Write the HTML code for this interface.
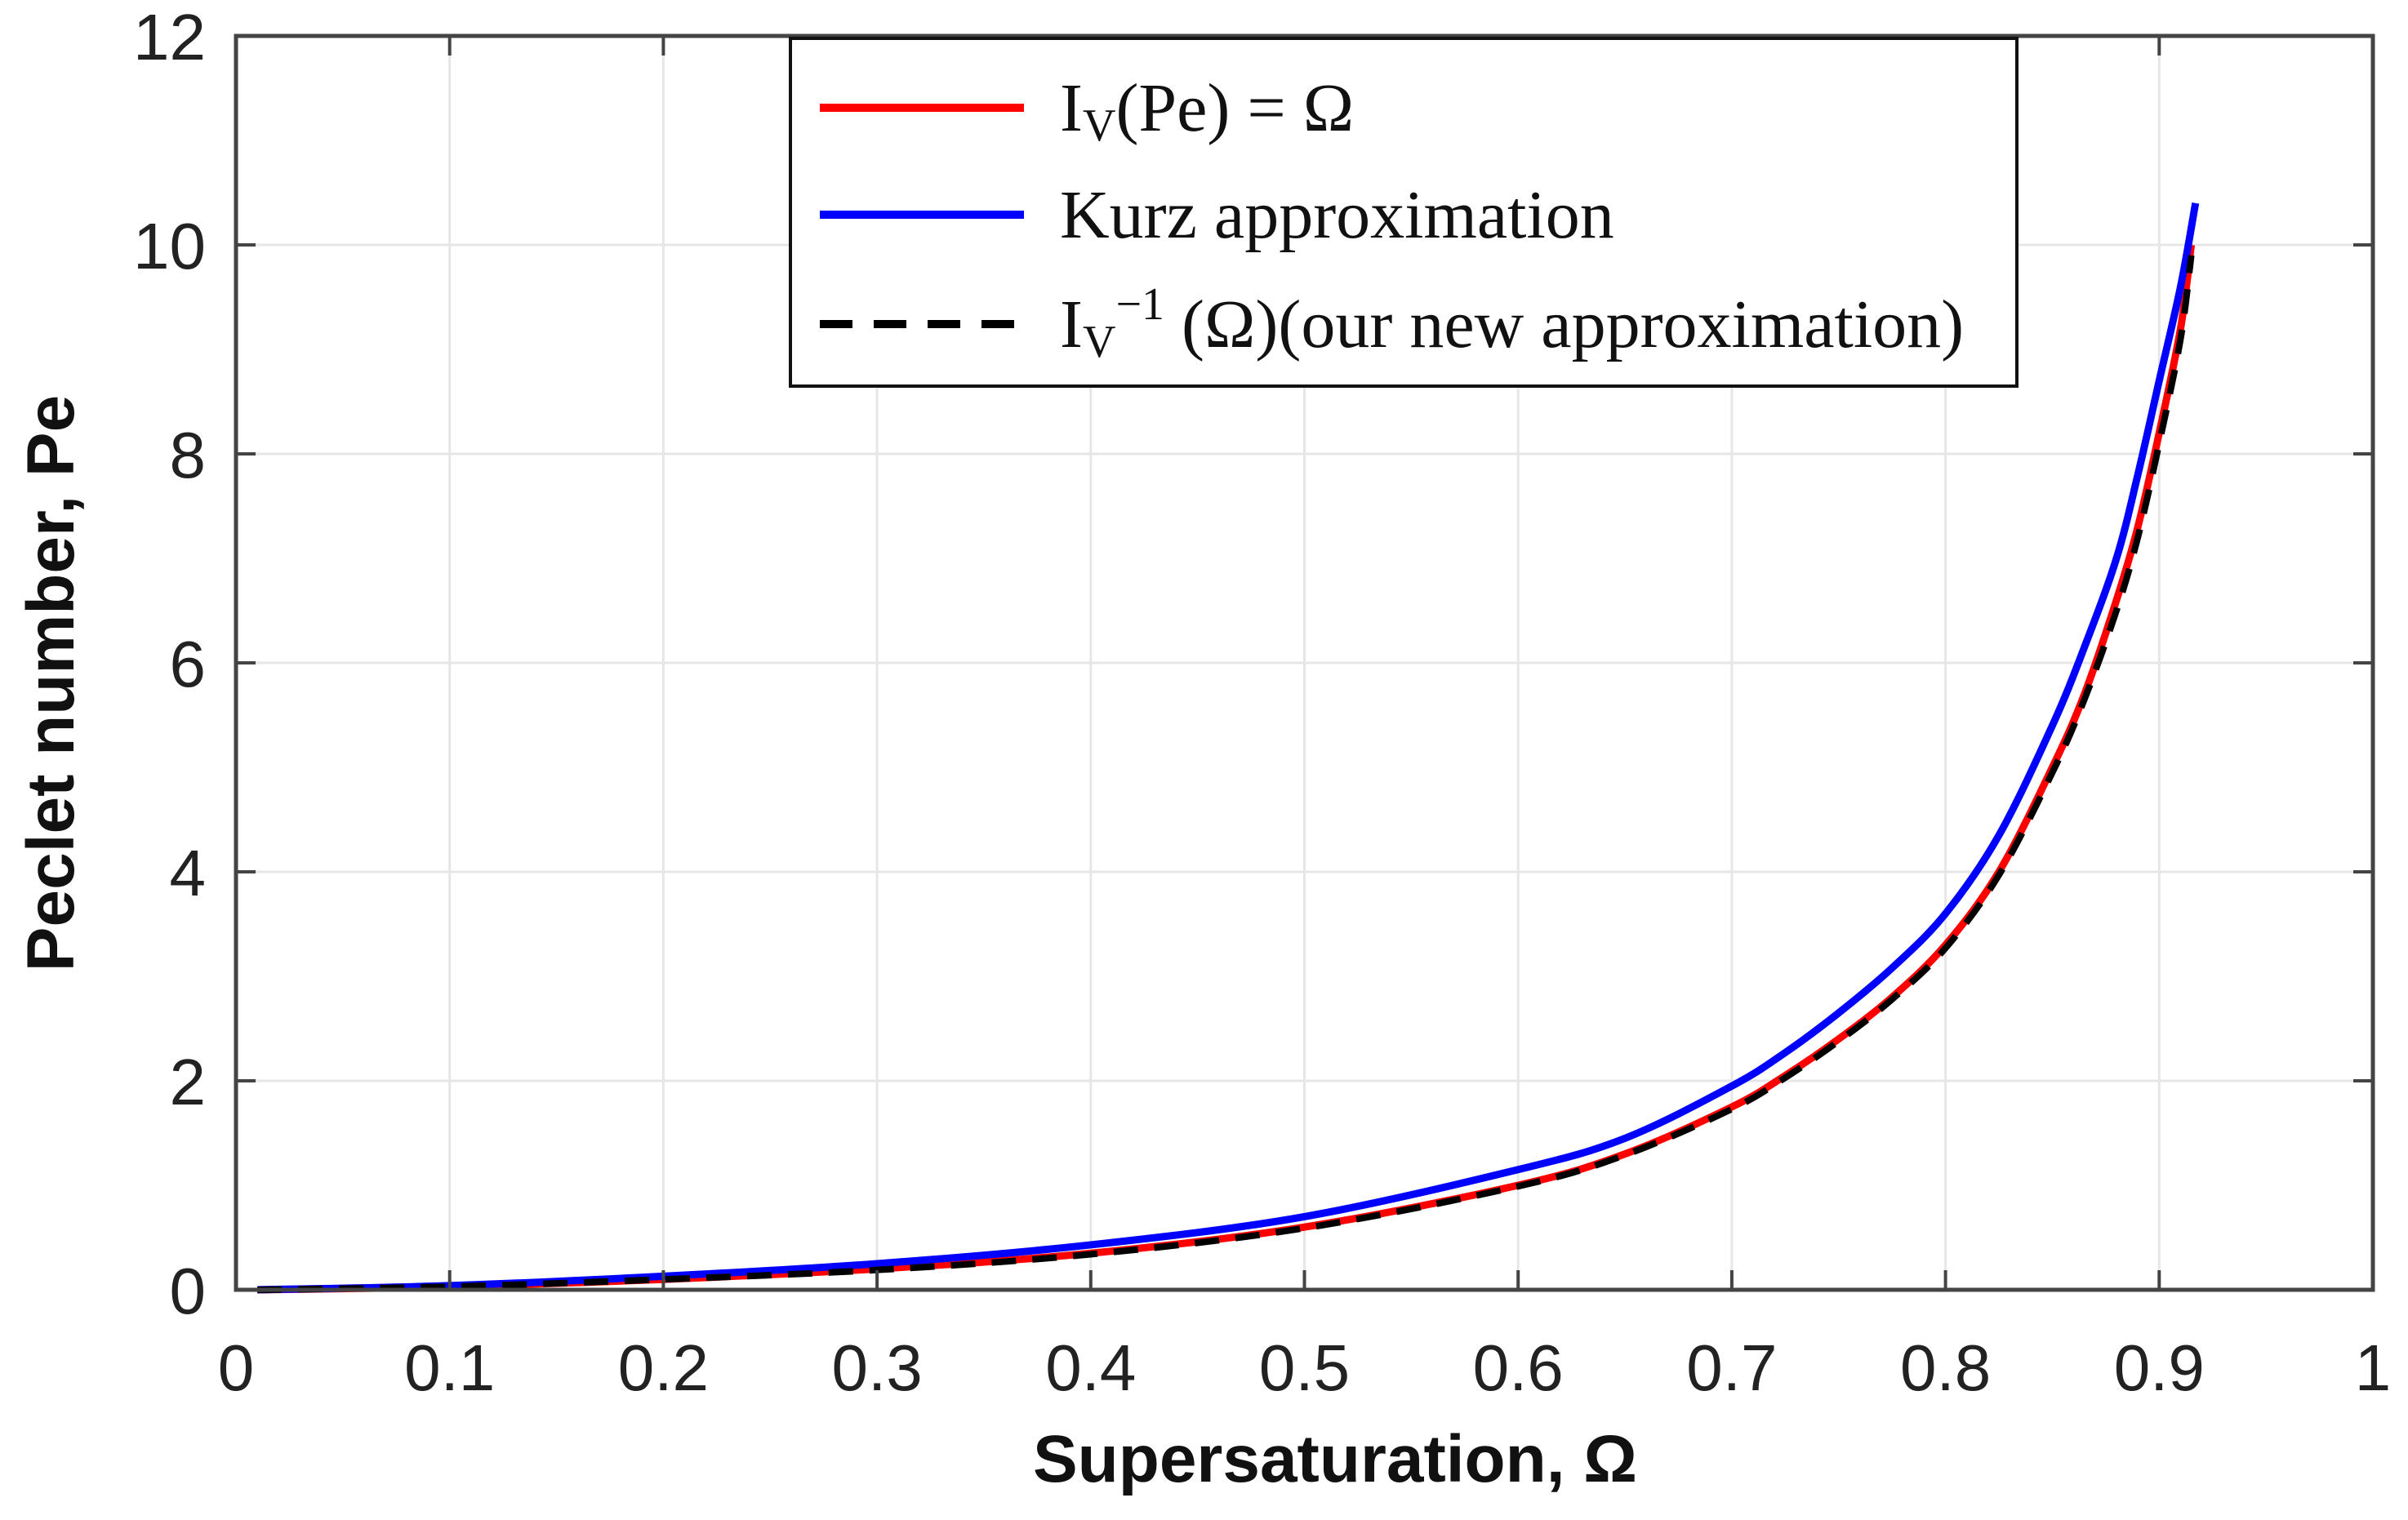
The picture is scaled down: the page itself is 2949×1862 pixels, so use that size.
<!DOCTYPE html>
<html><head><meta charset="utf-8"><style>
html,body{margin:0;padding:0;background:#fff;}
svg{display:block;}
</style></head><body>
<svg id="chart" width="2949" height="1862" viewBox="0 0 2949 1862" xmlns="http://www.w3.org/2000/svg">
<g id="grid"></g>
<g id="series"></g>
<g id="axes"></g>
<text x="1635" y="1815" font-family="Liberation Sans, sans-serif" font-weight="bold" font-size="82" text-anchor="middle" fill="#111">Supersaturation, Ω</text>
<text transform="translate(90,837) rotate(-90)" font-family="Liberation Sans, sans-serif" font-weight="bold" font-size="82" text-anchor="middle" fill="#111">Peclet number, Pe</text>
<g>
<rect x="968" y="47" width="1502" height="426" fill="#fff" stroke="#111" stroke-width="4"/>
<line x1="1004" y1="132" x2="1254" y2="132" stroke="#ff0000" stroke-width="10"/>
<text x="1298" y="160" font-family="Liberation Serif, serif" font-size="84" fill="#111">I<tspan font-size="56" dy="12">V</tspan><tspan dy="-12">(Pe) =  Ω</tspan></text>
<line x1="1004" y1="263" x2="1254" y2="263" stroke="#0000ff" stroke-width="10"/>
<text x="1298" y="291" font-family="Liberation Serif, serif" font-size="84" fill="#111">Kurz approximation</text>
<line x1="1004" y1="397" x2="1254" y2="397" stroke="#000" stroke-width="10" stroke-dasharray="40,26"/>
<text x="1298" y="425" font-family="Liberation Serif, serif" font-size="84" fill="#111">I<tspan font-size="56" dy="12">V</tspan><tspan font-size="56" dy="-46">−1</tspan><tspan dy="34"> (Ω)(our new approximation)</tspan></text>
</g>
</svg>
<script>
const xTicks = [0,0.1,0.2,0.3,0.4,0.5,0.6,0.7,0.8,0.9,1];
const xTickLabels = ["0","0.1","0.2","0.3","0.4","0.5","0.6","0.7","0.8","0.9","1"];
const yTicks = [0,2,4,6,8,10,12];
const yTickLabels = ["0","2","4","6","8","10","12"];
const omegaExact = [0.01,0.1,0.2,0.3,0.4,0.5,0.6,0.65,0.7,0.725,0.75,0.775,0.8,0.825,0.85,0.865,0.88,0.89,0.9,0.91,0.915];
const peExact = [0,0.03,0.1,0.2,0.35,0.6,1.0,1.3,1.75,2.05,2.4,2.8,3.3,4.0,5.0,5.7,6.6,7.3,8.2,9.2,10.0];
const omegaKurz = [0.01,0.1,0.2,0.3,0.4,0.5,0.6,0.65,0.7,0.725,0.75,0.775,0.8,0.825,0.85,0.865,0.88,0.89,0.9,0.91,0.917];
const peKurz = [0,0.04,0.13,0.25,0.43,0.7,1.15,1.45,1.95,2.27,2.65,3.08,3.6,4.35,5.4,6.15,7.0,7.8,8.7,9.6,10.4];
const omegaNew = omegaExact;
const peNew = [0,0.03,0.1,0.19,0.34,0.59,0.99,1.29,1.73,2.03,2.38,2.78,3.27,3.97,4.95,5.65,6.5,7.2,8.1,9.1,9.9];

const L=289,R=2906,T=44,B=1580;
const sx=v=>L+(R-L)*v;
const sy=v=>B-(B-T)*v/12;
const NS="http://www.w3.org/2000/svg";
const grid=document.getElementById('grid'), axes=document.getElementById('axes'), series=document.getElementById('series');
function mk(tag,attrs,parent){const e=document.createElementNS(NS,tag);for(const k in attrs)e.setAttribute(k,attrs[k]);parent.appendChild(e);return e;}
xTicks.forEach((v,i)=>{
  const g=mk('line',{x1:sx(v),x2:sx(v),y1:T,y2:B,stroke:'#e6e6e6','stroke-width':3},grid);
  
  
  const t=mk('text',{x:sx(v),y:1703,'font-family':'Liberation Sans, sans-serif','font-size':80,'text-anchor':'middle',fill:'#222'},axes);
  t.textContent=xTickLabels[i];
  
  
  mk('line',{x1:sx(v),x2:sx(v),y1:B,y2:B-24,stroke:'#444','stroke-width':4},axes);
  mk('line',{x1:sx(v),x2:sx(v),y1:T,y2:T+24,stroke:'#444','stroke-width':4},axes);
});
yTicks.forEach((v,i)=>{
  const g=mk('line',{x1:L,x2:R,y1:sy(v),y2:sy(v),stroke:'#e6e6e6','stroke-width':3},grid);
  
  
  const t=mk('text',{x:252,y:sy(v)+29,'font-family':'Liberation Sans, sans-serif','font-size':80,'text-anchor':'end',fill:'#222'},axes);
  t.textContent=yTickLabels[i];
  
  
  mk('line',{x1:L,x2:L+24,y1:sy(v),y2:sy(v),stroke:'#444','stroke-width':4},axes);
  mk('line',{x1:R,x2:R-24,y1:sy(v),y2:sy(v),stroke:'#444','stroke-width':4},axes);
});
const frame=mk('rect',{x:L,y:T,width:R-L,height:B-T,fill:'none',stroke:'#444','stroke-width':5},axes);


function pathD(xs,ys){
  const p=xs.map((x,i)=>[sx(x),sy(ys[i])]);
  let d='M'+p[0][0]+','+p[0][1];
  for(let i=0;i<p.length-1;i++){
    const p0=p[Math.max(0,i-1)],p1=p[i],p2=p[i+1],p3=p[Math.min(p.length-1,i+2)];
    const c1=[p1[0]+(p2[0]-p0[0])/6,p1[1]+(p2[1]-p0[1])/6];
    const c2=[p2[0]-(p3[0]-p1[0])/6,p2[1]-(p3[1]-p1[1])/6];
    d+=` C${c1[0]},${c1[1]} ${c2[0]},${c2[1]} ${p2[0]},${p2[1]}`;
  }
  return d;
}
const red=mk('path',{d:pathD(omegaExact,peExact),fill:'none',stroke:'#ff0000','stroke-width':9},series);


const blue=mk('path',{d:pathD(omegaKurz,peKurz),fill:'none',stroke:'#0000ff','stroke-width':9},series);


const blk=mk('path',{d:pathD(omegaNew,peNew),fill:'none',stroke:'#000','stroke-width':8,'stroke-dasharray':'30,20'},series);


</script>
</body></html>
